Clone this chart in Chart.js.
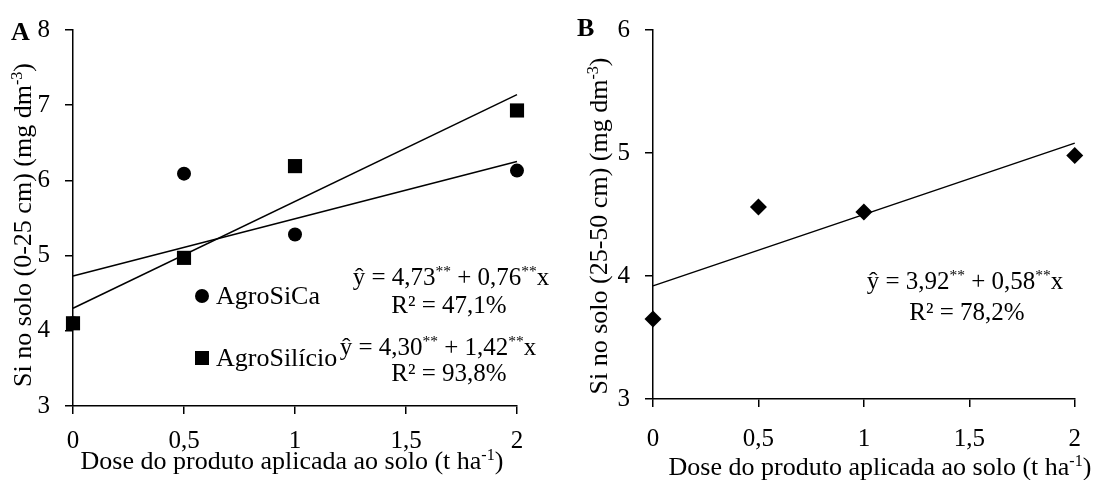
<!DOCTYPE html>
<html><head><meta charset="utf-8">
<script src="https://cdn.jsdelivr.net/npm/chart.js@4.4.1/dist/chart.umd.min.js"></script>
<style>
html,body{margin:0;padding:0;background:#fff;width:1098px;height:480px;overflow:hidden}
#wrapA{position:absolute;left:0;top:0;width:549px;height:480px}
#wrapB{position:absolute;left:549px;top:0;width:549px;height:480px}
</style></head><body>
<div id="wrapA"><canvas id="cA" width="549" height="480"></canvas></div>
<div id="wrapB"><canvas id="cB" width="549" height="480"></canvas></div>
<script>
// ---- data ----
const doses = [0, 0.5, 1, 2];
const agroSiCa = [4.10, 6.09, 5.28, 6.13];
const agroSilicio = [4.10, 4.97, 6.19, 6.93];
const siSubsoil = [3.65, 4.56, 4.52, 4.98];
const lineX = [0, 2];
const fitSiCa = [4.73, 6.25];
const fitSilicio = [4.30, 7.14];
const fitSubsoil = [3.92, 5.08];
const xTickValues = [0, 0.5, 1, 1.5, 2];
const xTickLabels = ['0', '0,5', '1', '1,5', '2'];
const yTicksA = [3, 4, 5, 6, 7, 8];
const yTicksB = [3, 4, 5, 6];

const FAM = "'Liberation Serif', 'Times New Roman', serif";
const pts = (xs, ys) => xs.map((x, i) => ({x: x, y: ys[i]}));

function drawRich(ctx, runs, x, baseline, size, align) {
  let total = 0;
  const parts = runs.map(r => {
    const fs = r.sup ? size * 0.62 : size;
    ctx.font = (r.bold ? 'bold ' : '') + fs + 'px ' + FAM;
    const w = ctx.measureText(r.t).width;
    total += w;
    return {r: r, fs: fs, w: w};
  });
  let cx = align === 'center' ? x - total / 2 : x;
  ctx.textAlign = 'left';
  ctx.textBaseline = 'alphabetic';
  ctx.fillStyle = '#000';
  parts.forEach(p => {
    ctx.font = (p.r.bold ? 'bold ' : '') + p.fs + 'px ' + FAM;
    ctx.fillText(p.r.t, cx, baseline - (p.r.sup ? size * 0.36 : 0));
    cx += p.w;
  });
}

function textPlugin(items) {
  return {
    id: 'txt',
    afterDraw(chart) {
      const ctx = chart.ctx;
      ctx.save();
      items.forEach(it => {
        if (it.kind === 'circle') {
          ctx.fillStyle = '#000';
          ctx.beginPath(); ctx.arc(it.x, it.y, it.r, 0, Math.PI * 2); ctx.fill();
        } else if (it.kind === 'square') {
          ctx.fillStyle = '#000';
          ctx.fillRect(it.x - it.s / 2, it.y - it.s / 2, it.s, it.s);
        } else if (it.rot) {
          ctx.save();
          ctx.translate(it.x, it.y);
          ctx.rotate(-Math.PI / 2);
          drawRich(ctx, it.runs, 0, 0, it.size, 'center');
          ctx.restore();
        } else {
          drawRich(ctx, it.runs, it.x, it.y, it.size, it.align);
        }
      });
      ctx.restore();
    }
  };
}

function axes(yTicks, yMin, yMax, yWidth, xHeight, xPad) {
  const grid = {display: true, drawOnChartArea: false, drawTicks: true, tickLength: 8, color: '#000', lineWidth: 1.5};
  const border = {display: true, color: '#000', width: 1.5};
  return {
    x: {
      type: 'linear', min: 0, max: 2,
      afterBuildTicks: s => { s.ticks = xTickValues.map(v => ({value: v})); },
      afterFit: s => { s.height = xHeight; },
      ticks: {
        color: '#000', padding: xPad, maxRotation: 0, autoSkip: false,
        font: {family: FAM, size: 25},
        callback: v => { const i = xTickValues.indexOf(v); return i >= 0 ? xTickLabels[i] : ''; }
      },
      grid: grid, border: border
    },
    y: {
      type: 'linear', min: yMin, max: yMax,
      afterBuildTicks: s => { s.ticks = yTicks.map(v => ({value: v})); },
      afterFit: s => { s.width = yWidth; },
      ticks: {color: '#000', padding: 15, font: {family: FAM, size: 25}, callback: v => String(v)},
      grid: grid, border: border
    }
  };
}

const common = {
  responsive: false,
  animation: false,
  devicePixelRatio: 1,
  plugins: {legend: {display: false}, tooltip: {enabled: false}}
};

// ---- Panel A ----
new Chart(document.getElementById('cA'), {
  type: 'scatter',
  data: {
    datasets: [
      {label: 'AgroSilício', data: pts(doses, agroSilicio), pointStyle: 'rect', pointRadius: 10, backgroundColor: '#000', borderColor: '#000', borderWidth: 0, clip: false},
      {label: 'AgroSiCa', data: pts(doses, agroSiCa), pointStyle: 'circle', pointRadius: 7, backgroundColor: '#000', borderColor: '#000', borderWidth: 0, clip: false},
      {label: 'fit AgroSilício', data: pts(lineX, fitSilicio), showLine: true, pointRadius: 0, borderColor: '#000', borderWidth: 1.5, clip: false},
      {label: 'fit AgroSiCa', data: pts(lineX, fitSiCa), showLine: true, pointRadius: 0, borderColor: '#000', borderWidth: 1.5, clip: false}
    ]
  },
  options: Object.assign({}, common, {
    layout: {autoPadding: false, padding: {left: 0, right: 32, top: 28, bottom: 0}},
    scales: axes(yTicksA, 3, 8, 73, 74, 12)
  }),
  plugins: [textPlugin([
    {runs: [{t: 'A', bold: true}], x: 11, y: 40, size: 26},
    {rot: true, runs: [{t: 'Si no solo (0-25 cm) (mg dm'}, {t: '-3', sup: true}, {t: ')'}], x: 31, y: 225, size: 26},
    {runs: [{t: 'Dose do produto aplicada ao solo (t ha'}, {t: '-1', sup: true}, {t: ')'}], x: 292, y: 469, size: 26, align: 'center'},
    {kind: 'circle', x: 202, y: 296, r: 7},
    {runs: [{t: 'AgroSiCa'}], x: 216, y: 304, size: 26},
    {kind: 'square', x: 202, y: 358, s: 14},
    {runs: [{t: 'AgroSilício'}], x: 216, y: 366, size: 26},
    {runs: [{t: 'ŷ = 4,73'}, {t: '**', sup: true}, {t: ' + 0,76'}, {t: '**', sup: true}, {t: 'x'}], x: 451, y: 285, size: 25, align: 'center'},
    {runs: [{t: 'R² = 47,1%'}], x: 449, y: 313, size: 25, align: 'center'},
    {runs: [{t: 'ŷ = 4,30'}, {t: '**', sup: true}, {t: ' + 1,42'}, {t: '**', sup: true}, {t: 'x'}], x: 438, y: 355, size: 25, align: 'center'},
    {runs: [{t: 'R² = 93,8%'}], x: 449, y: 381, size: 25, align: 'center'}
  ])]
});

// ---- Panel B ----
new Chart(document.getElementById('cB'), {
  type: 'scatter',
  data: {
    datasets: [
      {label: 'Si 25-50 cm', data: pts(doses, siSubsoil), pointStyle: 'rectRot', pointRadius: 8.5, backgroundColor: '#000', borderColor: '#000', borderWidth: 0, clip: false},
      {label: 'fit', data: pts(lineX, fitSubsoil), showLine: true, pointRadius: 0, borderColor: '#000', borderWidth: 1.5, clip: false}
    ]
  },
  options: Object.assign({}, common, {
    layout: {autoPadding: false, padding: {left: 0, right: 8, top: 29, bottom: 0}},
    scales: axes(yTicksB, 3, 6, 104, 81, 17)
  }),
  plugins: [textPlugin([
    {runs: [{t: 'B', bold: true}], x: 28, y: 36, size: 26},
    {rot: true, runs: [{t: 'Si no solo (25-50 cm) (mg dm'}, {t: '-3', sup: true}, {t: ')'}], x: 58, y: 226, size: 26},
    {runs: [{t: 'Dose do produto aplicada ao solo (t ha'}, {t: '-1', sup: true}, {t: ')'}], x: 331, y: 475, size: 26, align: 'center'},
    {runs: [{t: 'ŷ = 3,92'}, {t: '**', sup: true}, {t: ' + 0,58'}, {t: '**', sup: true}, {t: 'x'}], x: 416, y: 289, size: 25, align: 'center'},
    {runs: [{t: 'R² = 78,2%'}], x: 418, y: 320, size: 25, align: 'center'}
  ])]
});
</script>
</body></html>
